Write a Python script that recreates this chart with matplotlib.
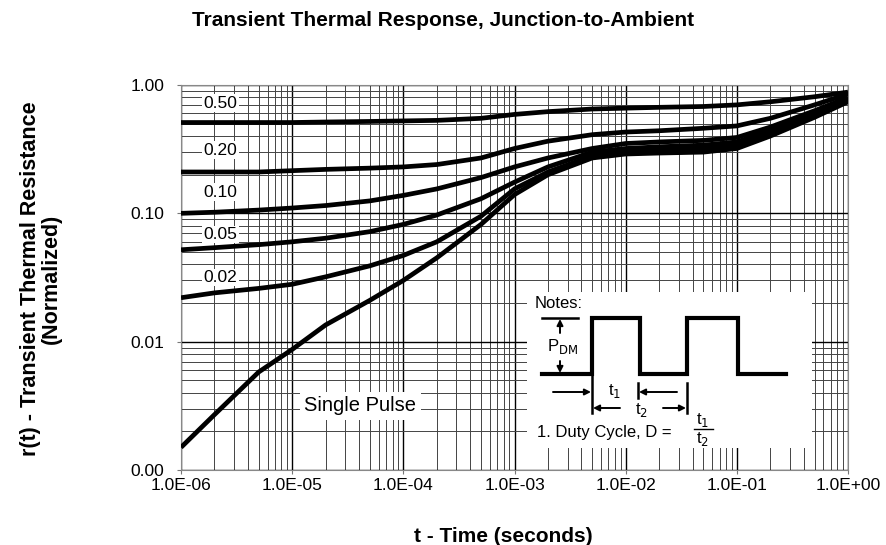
import numpy as np
import matplotlib.pyplot as plt

plt.rcParams['font.family'] = ['Liberation Sans', 'DejaVu Sans']

# pulse duration (s)
t = [1e-6, 2e-6, 5e-6, 1e-5, 2e-5, 5e-5, 1e-4, 2e-4, 5e-4, 1e-3,
     2e-3, 5e-3, 1e-2, 2e-2, 5e-2, 1e-1, 2e-1, 5e-1, 1.0]

# normalized transient thermal resistance for each duty cycle
r_d50 = [0.51, 0.51, 0.51, 0.51, 0.515, 0.52, 0.525, 0.53, 0.55, 0.59,
         0.62, 0.65, 0.66, 0.67, 0.68, 0.70, 0.74, 0.81, 0.88]
r_d20 = [0.21, 0.21, 0.21, 0.215, 0.22, 0.225, 0.23, 0.24, 0.27, 0.32,
         0.365, 0.41, 0.43, 0.44, 0.46, 0.48, 0.55, 0.70, 0.85]
r_d10 = [0.10, 0.102, 0.106, 0.11, 0.115, 0.125, 0.138, 0.155, 0.19, 0.23,
         0.27, 0.32, 0.35, 0.36, 0.37, 0.39, 0.47, 0.63, 0.80]
r_d05 = [0.052, 0.054, 0.057, 0.06, 0.064, 0.072, 0.082, 0.097, 0.13, 0.175,
         0.23, 0.30, 0.32, 0.33, 0.34, 0.36, 0.44, 0.60, 0.78]
r_d02 = [0.022, 0.024, 0.026, 0.028, 0.032, 0.039, 0.047, 0.06, 0.095, 0.155,
         0.21, 0.28, 0.30, 0.31, 0.32, 0.34, 0.42, 0.58, 0.76]
r_single = [0.0015, 0.0027, 0.0058, 0.0087, 0.0135, 0.021, 0.030, 0.045, 0.082, 0.14,
            0.20, 0.27, 0.29, 0.295, 0.30, 0.32, 0.40, 0.56, 0.74]

duty_labels = ['0.50', '0.20', '0.10', '0.05', '0.02']
duty_label_y = [0.72, 0.31, 0.146, 0.0685, 0.0316]

x_ticks = [1e-6, 1e-5, 1e-4, 1e-3, 1e-2, 1e-1, 1.0]
x_ticklabels = ['1.0E-06', '1.0E-05', '1.0E-04', '1.0E-03', '1.0E-02', '1.0E-01', '1.0E+00']
y_ticks = [0.001, 0.01, 0.1, 1.0]
y_ticklabels = ['0.00', '0.01', '0.10', '1.00']

fig = plt.figure(figsize=(8.87, 5.45), dpi=100)
ax = fig.add_axes([181 / 887, 1 - 470 / 545, 667 / 887, 385 / 545])

ax.set_xscale('log')
ax.set_yscale('log')
ax.set_xlim(1e-6, 1.0)
ax.set_ylim(1e-3, 1.0)

ax.grid(True, which='major', color='black', lw=1.0)
ax.grid(True, which='minor', color='#444444', lw=0.7)
ax.set_axisbelow(True)

for r in [r_d50, r_d20, r_d10, r_d05, r_d02, r_single]:
    ax.plot(t, r, color='black', lw=3.4, solid_capstyle='butt', zorder=3)

for lab, yy in zip(duty_labels, duty_label_y):
    ax.text(1.6e-6, yy, lab, fontsize=12.5, ha='left', va='center', zorder=4,
            bbox=dict(facecolor='white', edgecolor='none', pad=1))

ax.text(4.1e-5, 0.00316, 'Single Pulse', fontsize=14.5, ha='center', va='center', zorder=4,
        bbox=dict(facecolor='white', edgecolor='none', pad=3))

ax.set_xticks(x_ticks)
ax.set_xticklabels(x_ticklabels)
ax.set_yticks(y_ticks)
ax.set_yticklabels(y_ticklabels)
ax.tick_params(which='major', length=3, color='#777777', labelsize=12.5)
ax.tick_params(axis='x', pad=3)
ax.tick_params(axis='y', pad=9)
ax.tick_params(which='minor', length=0)
ax.xaxis.set_minor_formatter(plt.NullFormatter())
ax.yaxis.set_minor_formatter(plt.NullFormatter())
for s in ax.spines.values():
    s.set_color('#888888')

fig.text(443 / 887, 1 - 20 / 545, 'Transient Thermal Response, Junction-to-Ambient',
         fontsize=15, fontweight='bold', ha='center', va='center')
fig.text(503 / 887, 1 - 536 / 545, 't - Time (seconds)',
         fontsize=15, fontweight='bold', ha='center', va='center')
fig.text(31 / 887, 1 - 279 / 545, 'r(t) - Transient Thermal Resistance',
         fontsize=15.5, fontweight='bold', ha='center', va='center', rotation=90)
fig.text(51 / 887, 1 - 279 / 545, '(Normalized)',
         fontsize=15.5, fontweight='bold', ha='center', va='center', rotation=90)

# notes inset: drawn in pixel units of the box
ins = fig.add_axes([527 / 887, 1 - 448 / 545, 285 / 887, 156 / 545])
ins.set_xlim(527, 812)
ins.set_ylim(448, 292)
ins.axis('off')
ins.add_patch(plt.Rectangle((527, 292), 285, 156, facecolor='white', edgecolor='none'))

wx = [542, 592, 592, 640, 640, 687, 687, 738, 738, 786]
wy = [374, 374, 318, 318, 374, 374, 318, 318, 374, 374]
ins.plot(wx, wy, color='black', lw=3, solid_joinstyle='miter')
ins.plot([542, 578], [318, 318], color='black', lw=1.8)

arrow = dict(arrowstyle='-|>', color='black', lw=1.4, mutation_scale=9, shrinkA=0, shrinkB=0)
ins.annotate('', xy=(560, 319), xytext=(560, 333), arrowprops=arrow)
ins.annotate('', xy=(560, 373), xytext=(560, 361), arrowprops=arrow)
ins.text(563, 347, r'P$_{\mathrm{DM}}$', fontsize=12, ha='center', va='center')

ins.plot([592, 592], [376, 413], color='black', lw=1.8)
ins.plot([638, 638], [383, 398], color='black', lw=1.8)
ins.plot([687, 687], [383, 413], color='black', lw=1.8)
ins.annotate('', xy=(591, 392), xytext=(553, 392), arrowprops=arrow)
ins.annotate('', xy=(639, 392), xytext=(677, 392), arrowprops=arrow)
ins.text(615, 391, r't$_1$', fontsize=12, ha='center', va='center')
ins.annotate('', xy=(593, 408), xytext=(620, 408), arrowprops=arrow)
ins.annotate('', xy=(686, 408), xytext=(663, 408), arrowprops=arrow)
ins.text(642, 410, r't$_2$', fontsize=12, ha='center', va='center')

ins.text(535, 303, 'Notes:', fontsize=12, ha='left', va='center')
ins.text(537, 432, '1. Duty Cycle, D =', fontsize=12, ha='left', va='center')
ins.text(703, 420, r't$_1$', fontsize=12, ha='center', va='center')
ins.plot([694, 713], [429, 429], color='black', lw=1.0)
ins.text(703, 439, r't$_2$', fontsize=12, ha='center', va='center')

fig.savefig('out.png', dpi=100)
